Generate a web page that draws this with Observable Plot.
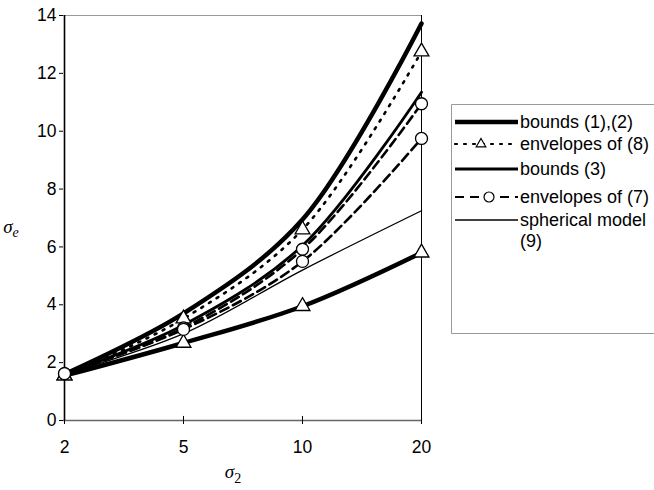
<!DOCTYPE html>
<html><head><meta charset="utf-8">
<script src="https://cdn.jsdelivr.net/npm/d3@7"></script>
<script src="https://cdn.jsdelivr.net/npm/@observablehq/plot@0.6"></script>
<style>
body{margin:0;background:#fff;}
#wrap{position:relative;width:654px;height:490px;overflow:hidden;}
#legend{position:absolute;left:451px;top:104px;width:210px;height:230px;}
</style></head><body><div id="wrap"><div id="legend"></div></div>
<script>
// x categories (sigma_2) and tick labels
const sigma2 = [2, 5, 10, 20];
const yTicks = [0, 2, 4, 6, 8, 10, 12, 14];
// series values (sigma_e)
const bounds12Upper = [1.6, 3.7, 6.95, 13.72];
const bounds12Lower = [1.55, 2.68, 3.95, 5.8];
const env8Upper = [1.55, 3.52, 6.6, 12.75];
const env8Lower = [1.55, 2.68, 3.95, 5.8];
const bounds3 = [1.6, 3.3, 6.05, 11.35];
const env7Upper = [1.62, 3.2, 5.92, 10.95];
const env7Lower = [1.62, 3.15, 5.5, 9.75];
const spherical = [1.6, 3.0, 5.2, 7.25];
const legendLabels = ["bounds (1),(2)", "envelopes of (8)", "bounds (3)", "envelopes of (7)", "spherical model", "(9)"];

const rows = (name, ys) => sigma2.map((x, i) => ({series: name, x, y: ys[i]}));
const b12 = [...rows("b12u", bounds12Upper), ...rows("b12l", bounds12Lower)];
const e8 = [...rows("e8u", env8Upper), ...rows("e8l", env8Lower)];
const b3 = rows("b3", bounds3);
const e7 = [...rows("e7u", env7Upper), ...rows("e7l", env7Lower)];
const sph = rows("sph", spherical);

const font = "Arial, 'Liberation Sans', sans-serif";
const curve = "catmull-rom";

const plot = Plot.plot({
  width: 654, height: 490,
  marginLeft: 63, marginRight: 232, marginTop: 15, marginBottom: 70,
  style: {fontFamily: font, fontSize: "17.5px", color: "#000", background: "#fff", overflow: "visible"},
  x: {type: "point", domain: sigma2, padding: 0, label: null},
  y: {domain: [0, 14], label: null},
  marks: [
    Plot.ruleY([14], {stroke: "#999", strokeWidth: 1.2}),
    Plot.ruleX([20], {stroke: "#000", strokeWidth: 1}),
    Plot.ruleY([0], {stroke: "#666", strokeWidth: 1.6}),
    Plot.ruleX([2], {stroke: "#000", strokeWidth: 1.6}),
    Plot.axisY({ticks: yTicks, tickSize: 4, tickPadding: 3, label: null, fontSize: 17.5}),
    Plot.axisX({ticks: sigma2, tickSize: 4, tickPadding: 16, label: null, fontSize: 17.5}),
    Plot.ruleX(sigma2, {y1: 0, y2: 0.14, stroke: "#000"}),
    Plot.lineY(sph, {x: "x", y: "y", z: "series", curve, stroke: "#000", strokeWidth: 1.3}),
    Plot.lineY(e7, {x: "x", y: "y", z: "series", curve, stroke: "#000", strokeWidth: 2.6, strokeDasharray: "9,5"}),
    Plot.lineY(b3, {x: "x", y: "y", z: "series", curve, stroke: "#000", strokeWidth: 2.8}),
    Plot.lineY(e8, {x: "x", y: "y", z: "series", curve, stroke: "#000", strokeWidth: 2.6, strokeDasharray: "2,7", strokeLinecap: "round"}),
    Plot.lineY(b12, {x: "x", y: "y", z: "series", curve, stroke: "#000", strokeWidth: 4.5}),
    Plot.dot(e8, {x: "x", y: "y", symbol: "triangle", r: 5.5, fill: "#fff", stroke: "#000", strokeWidth: 1.3}),
    Plot.dot(e7, {x: "x", y: "y", symbol: "circle", r: 6, fill: "#fff", stroke: "#000", strokeWidth: 1.3})
  ]
});
document.getElementById("wrap").prepend(plot);

// axis titles (sigma with subscripts)
const svg = d3.select(plot);
const yl = svg.append("text").attr("x", 11).attr("y", 233)
  .attr("font-family", "'Liberation Serif', 'DejaVu Serif', serif").attr("font-size", 19).attr("font-style", "italic").attr("fill", "#000");
yl.append("tspan").text("σ");
yl.append("tspan").attr("dy", 4).attr("font-size", 14).text("e");
const xl = svg.append("text").attr("x", 233).attr("y", 478)
  .attr("font-family", "'Liberation Serif', 'DejaVu Serif', serif").attr("font-size", 19).attr("fill", "#000");
xl.append("tspan").attr("font-style", "italic").text("σ");
xl.append("tspan").attr("dy", 5).attr("font-size", 14).text("2");

// legend
const lg = d3.select("#legend").append("svg").attr("width", 210).attr("height", 230);
lg.append("path").attr("d", "M210,0.5H0.5V229.5H210").attr("fill", "none").attr("stroke", "#999").attr("stroke-width", 1);
const styles = [
  {w: 4.5, dash: null, sym: null},
  {w: 2.2, dash: "2,7", sym: "tri"},
  {w: 2.8, dash: null, sym: null},
  {w: 1.8, dash: "9,6", sym: "circ"},
  {w: 1.3, dash: null, sym: null}
];
const rowY = [18, 40, 65, 93, 116];
styles.forEach((s, i) => {
  const y = rowY[i];
  const ln = lg.append("line").attr("x1", 4).attr("x2", 67).attr("y1", y).attr("y2", y)
    .attr("stroke", "#000").attr("stroke-width", s.w);
  if (s.dash) ln.attr("stroke-dasharray", s.dash).attr("stroke-linecap", s.sym === "tri" ? "round" : "butt");
  if (s.sym === "tri") lg.append("path").attr("d", d3.symbol(d3.symbolTriangle, 40)()).attr("transform", `translate(30,${y})`).attr("fill", "#fff").attr("stroke", "#000").attr("stroke-width", 1.2);
  if (s.sym === "circ") lg.append("circle").attr("cx", 38).attr("cy", y).attr("r", 5).attr("fill", "#fff").attr("stroke", "#000").attr("stroke-width", 1.2);
  lg.append("text").attr("x", 69).attr("y", y + 6).attr("font-family", font).attr("font-size", 18).attr("fill", "#000").text(legendLabels[i]);
});
lg.append("text").attr("x", 69).attr("y", 143).attr("font-family", font).attr("font-size", 18).attr("fill", "#000").text(legendLabels[5]);
</script>
</body></html>
